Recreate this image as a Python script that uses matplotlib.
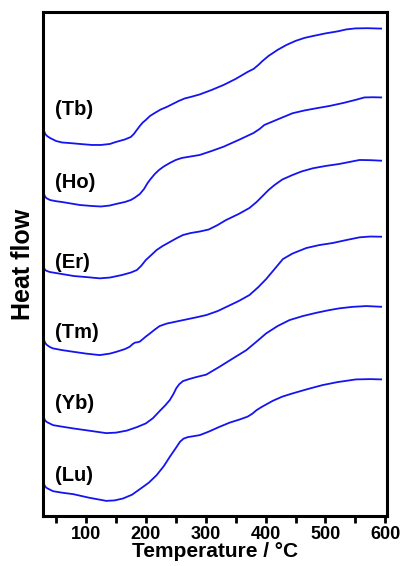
import matplotlib
matplotlib.use("Agg")
import matplotlib.pyplot as plt
from matplotlib.ticker import MultipleLocator

plt.rcParams['font.family'] = ['Liberation Sans', 'DejaVu Sans']
plt.rcParams['font.weight'] = 'bold'

# DSC traces, temperature in degC, heat flow in arbitrary (stacked) units
t_tb = [30, 32, 35, 40, 50, 60, 75, 90, 110, 125, 140, 150, 165, 175, 180, 185, 190, 195, 200, 207, 215, 225, 235, 245,
        255, 265, 275, 290, 310, 330, 350, 370, 380, 388, 395, 405, 420, 435, 450, 465, 480, 500, 520, 535, 550, 570, 593]
hf_tb = [385, 382, 380, 378, 375, 373.5, 372.8, 372, 371, 371, 372, 374, 376.5, 379, 382, 386, 390, 393.5, 396, 400, 403,
         406.5, 409, 412, 415, 417.5, 419, 421.5, 426, 431, 437, 444, 447, 451, 455, 460, 466, 471, 475, 478, 480, 482.5,
         484.5, 486.5, 487.5, 487.7, 487.3]

t_ho = [30, 32, 35, 40, 50, 60, 75, 90, 110, 125, 140, 150, 165, 175, 182, 190, 197, 203, 208, 215, 222, 230, 240, 250,
        260, 270, 290, 310, 330, 355, 380, 390, 398, 412, 430, 445, 465, 485, 507, 530, 550, 565, 580, 593]
hf_ho = [322, 319, 317.5, 316, 314.8, 314, 312.5, 311, 310, 309.5, 310.5, 312, 314, 316, 318.5, 322, 327, 333, 337, 342,
         346, 349.5, 353, 356, 358, 359, 361, 365, 369.3, 376, 383, 387, 391, 394.5, 399, 402.7, 405.5, 407.7, 410, 413,
         416, 418.5, 418.7, 418.5]

t_er = [30, 32, 35, 40, 60, 80, 100, 123, 140, 160, 175, 185, 192, 200, 210, 218, 228, 240, 252, 262, 275, 290, 305, 320,
        334, 355, 373, 385, 395, 405, 415, 428, 445, 460, 479, 500, 523, 540, 557, 575, 593]
hf_er = [248, 246, 245, 244, 242, 240, 239, 237.7, 238.5, 241, 243.5, 246, 250, 256, 261.5, 266, 270, 274, 278, 281, 283,
         284.5, 286.5, 291, 296, 302, 308, 314, 320, 326, 331, 336.5, 341, 344.5, 347.7, 350, 352, 354, 356, 355.8, 355.3]

t_tm = [30, 32, 35, 40, 45, 60, 79, 100, 123, 140, 151, 165, 173, 178, 182, 186, 190, 195, 200, 207, 215, 223, 235, 257,
        284, 301, 320, 334, 355, 373, 388, 401, 415, 429, 445, 468, 490, 512, 535, 557, 575, 593]
hf_tm = [176, 173, 171, 169, 167.7, 166, 164.3, 162.5, 161, 162.5, 164.3, 167, 169.3, 172, 173.5, 173.8, 174.5, 177, 179.5,
         182.7, 186.5, 190, 192.5, 195.3, 198.7, 201, 205, 209, 215, 221, 229, 237, 247, 257, 262.5, 268, 271, 273, 276,
         278.7, 279.5, 279.3]

t_yb = [30, 32, 35, 40, 45, 60, 79, 105, 134, 150, 168, 185, 200, 212, 223, 232, 240, 246, 251, 256, 262, 272, 284, 301,
        323, 345, 368, 385, 401, 420, 440, 462, 485, 505, 523, 545, 568, 593]
hf_yb = [98, 95.5, 94, 92.5, 91, 89.5, 87.7, 85.5, 83, 83.5, 85.5, 89, 92.7, 98, 105, 110.5, 116, 122, 128, 132, 135, 137,
         139, 141.5, 149.3, 157.5, 166, 174.5, 182.7, 190, 196, 200, 203.3, 205.8, 207.7, 209.2, 210, 209.3]

t_lu = [30, 32, 35, 40, 45, 60, 79, 105, 134, 148, 162, 177, 190, 205, 218, 230, 240, 250, 257, 263, 270, 280, 290, 305,
        323, 340, 357, 370, 378, 385, 393, 402, 412, 428, 445, 470, 495, 520, 551, 575, 593]
hf_lu = [32, 29.5, 28, 26.5, 25, 23.5, 22, 18.5, 15.3, 15.8, 17.7, 21.5, 27, 33.5, 41, 50, 59.3, 68, 74.3, 77.5, 79, 80,
         81, 84.5, 89.3, 93.5, 96.7, 99.5, 102.5, 106, 109, 112, 115.3, 119.5, 122.7, 127, 131, 134, 136.7, 137, 136.7]

names = ['(Tb)', '(Ho)', '(Er)', '(Tm)', '(Yb)', '(Lu)']
label_y = [406, 333, 254, 184, 113, 41]

fig = plt.figure(figsize=(4.02, 5.66), dpi=100)
ax = fig.add_axes([0.107, 0.088, 0.856, 0.891])

curves = [(t_tb, hf_tb), (t_ho, hf_ho), (t_er, hf_er), (t_tm, hf_tm), (t_yb, hf_yb), (t_lu, hf_lu)]
for (t, hf), name, ly in zip(curves, names, label_y):
    ax.plot(t, hf, color='#1414f0', lw=1.3)
    ax.text(48, ly, name, fontsize=14.5, fontweight='bold', va='center', ha='left')

ax.set_xlim(28.3, 603)
ax.set_ylim(0, 504)
ax.xaxis.set_major_locator(MultipleLocator(100))
ax.xaxis.set_minor_locator(MultipleLocator(50))
ax.set_yticks([])
ax.tick_params(axis='x', which='both', direction='out', length=5, width=2, labelsize=13, pad=2)
for s in ax.spines.values():
    s.set_linewidth(2.2)

ax.set_xlabel('Temperature / °C', fontsize=15, fontweight='bold', labelpad=-1)
ax.set_ylabel('Heat flow', fontsize=18, fontweight='bold', labelpad=6)

fig.savefig('out.png', dpi=100)
